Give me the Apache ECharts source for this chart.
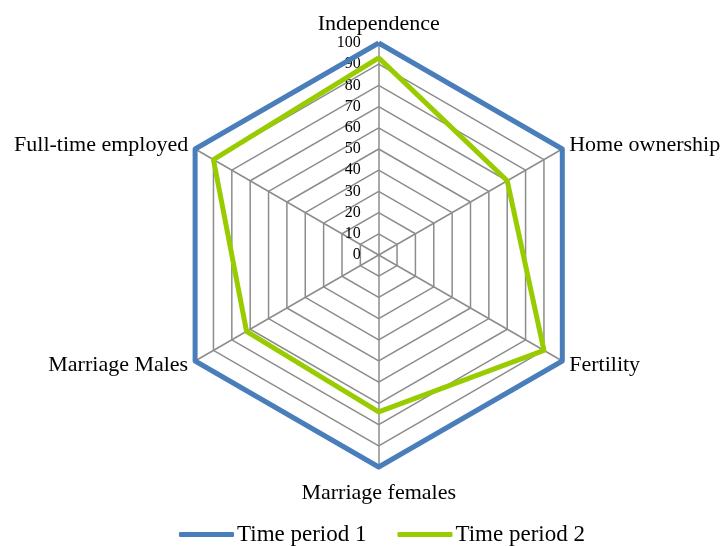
<!DOCTYPE html>
<html>
<head>
<meta charset="utf-8">
<script src="https://cdn.jsdelivr.net/npm/echarts@6/dist/echarts.min.js"></script>
<style>html,body{margin:0;padding:0;background:#fff;}#c{width:726px;height:546px;}</style>
</head>
<body>
<div id="c"></div>
<script>
var categories = ['Independence', 'Home ownership', 'Fertility', 'Marriage females', 'Marriage Males', 'Full-time employed'];
var period1 = [100, 100, 100, 100, 100, 100];
var period2 = [93, 70, 90, 74, 72, 90];
var seriesNames = ['Time period 1', 'Time period 2'];
var colors = ['#4a7ebb', '#99cc00'];
var FONT = '"Liberation Serif", "DejaVu Serif", serif';

// ECharts radar runs counter-clockwise; reorder so the chart reads clockwise
var order = [0];
for (var k = categories.length - 1; k >= 1; k--) order.push(k);
function reorder(arr) { return order.map(function (i) { return arr[i]; }); }

var indicator = reorder(categories).map(function (c, i) {
  var o = { name: c, min: 0, max: 100 };
  if (i === 0) o.axisLabel = { show: true };
  return o;
});

var chart = echarts.init(document.getElementById('c'));
chart.setOption({
  animation: false,
  color: colors,
  legend: {
    top: 518,
    left: 174,
    icon: 'roundRect',
    itemWidth: 55,
    itemHeight: 5,
    itemGap: 31,
    textStyle: { fontFamily: FONT, fontSize: 23, color: '#000', padding: [0, 0, 0, -2] },
    data: seriesNames
  },
  radar: {
    center: [378.7, 255],
    radius: 212,
    startAngle: 90,
    shape: 'polygon',
    splitNumber: 10,
    indicator: indicator,
    axisName: {
      fontFamily: FONT, fontSize: 22, color: '#000',
      formatter: function (name) { return name === categories[3] ? '{b|' + name + '}' : name; },
      rich: { b: { fontFamily: FONT, fontSize: 22, color: '#000', padding: [7, 0, 0, 0] } }
    },
    nameGap: 8,
    splitArea: { show: false },
    splitLine: { lineStyle: { color: '#8c8c8c', width: 1.5 } },
    axisLine: { lineStyle: { color: '#8c8c8c', width: 1.5 } },
    axisTick: { show: false },
    axisLabel: { show: false, fontFamily: FONT, fontSize: 16, color: '#000', margin: 18 }
  },
  series: [{
    type: 'radar',
    symbol: 'none',
    data: [
      { name: seriesNames[0], value: reorder(period1), lineStyle: { color: colors[0], width: 5 }, itemStyle: { color: colors[0] } },
      { name: seriesNames[1], value: reorder(period2), lineStyle: { color: colors[1], width: 5 }, itemStyle: { color: colors[1] } }
    ]
  }]
});
</script>
</body>
</html>
